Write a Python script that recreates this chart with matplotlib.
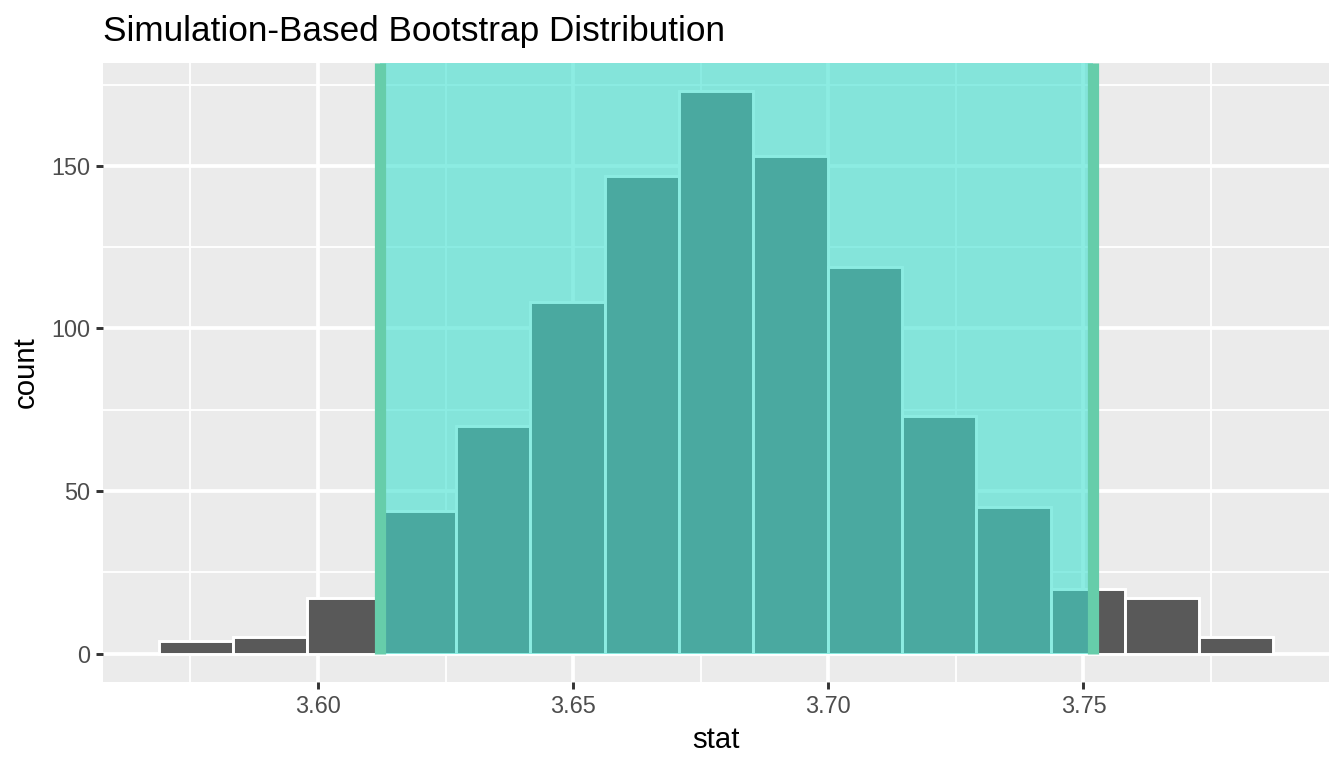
import numpy as np
import matplotlib
matplotlib.use("Agg")
import matplotlib.pyplot as plt

# bootstrap histogram
bin_edges = [3.5688, 3.5834, 3.5979, 3.6125, 3.6271, 3.6416, 3.6562, 3.6708,
             3.6853, 3.6999, 3.7144, 3.7290, 3.7436, 3.7581, 3.7727, 3.7872]
counts = [4, 5, 17, 44, 70, 108, 147, 173, 153, 119, 73, 45, 20, 17, 5]

# confidence interval endpoints
ci_endpoints = [3.6122, 3.7519]

x_ticks = [3.60, 3.65, 3.70, 3.75]
x_minor = [3.575, 3.625, 3.675, 3.725, 3.775]
y_ticks = [0, 50, 100, 150]
y_minor = [25, 75, 125, 175]

title = "Simulation-Based Bootstrap Distribution"

plt.rcParams['font.family'] = ['Liberation Sans', 'DejaVu Sans']

fig = plt.figure(figsize=(7, 4), dpi=192)
ax = fig.add_axes([103 / 1344, 1 - 681.7 / 768, (1329 - 103) / 1344, (681.7 - 63) / 768])
ax.set_facecolor("#EBEBEB")
for s in ax.spines.values():
    s.set_visible(False)

edges = np.array(bin_edges)
ax.bar(edges[:-1], counts, width=np.diff(edges), align="edge",
       color="#595959", edgecolor="white", linewidth=1.1, zorder=2)

# axis ranges with ggplot-style 5% expansion
x_lo = min(edges[0], min(ci_endpoints))
x_hi = max(edges[-1], max(ci_endpoints))
dx = (x_hi - x_lo) * 0.05
ax.set_xlim(x_lo - dx, x_hi + dx)
y_hi = max(counts)
y_lim = (-y_hi * 0.05, y_hi * 1.05)
ax.set_ylim(*y_lim)

# shaded interval on top of the bars, from count 0 up to the panel top
y0_frac = (0 - y_lim[0]) / (y_lim[1] - y_lim[0])
ax.axvspan(ci_endpoints[0], ci_endpoints[1], ymin=y0_frac, ymax=1,
           color="#40E0D0", alpha=0.6, linewidth=0, zorder=3)
for e in ci_endpoints:
    ax.axvline(e, ymin=y0_frac, ymax=1, color="#66CDAA", linewidth=4.2,
               solid_capstyle="butt", zorder=4)

ax.set_xticks(x_ticks)
ax.set_xticklabels([f"{t:.2f}" for t in x_ticks])
ax.set_xticks(x_minor, minor=True)
ax.set_yticks(y_ticks)
ax.set_yticks(y_minor, minor=True)

ax.grid(which="major", color="white", linewidth=1.42, zorder=1)
ax.grid(which="minor", color="white", linewidth=0.71, zorder=1)
ax.set_axisbelow(True)

ax.tick_params(which="major", length=2.75, width=1.1, color="#333333",
               labelsize=8.8, labelcolor="#4D4D4D", pad=2.2)
ax.tick_params(which="minor", length=0)

ax.set_xlabel("stat", fontsize=11, labelpad=3)
ax.set_ylabel("count", fontsize=11, labelpad=4)
fig.text(103 / 1344, 1 - 41 / 768, title, fontsize=13.2, ha="left", va="baseline")

fig.savefig("out.png", dpi=192)
